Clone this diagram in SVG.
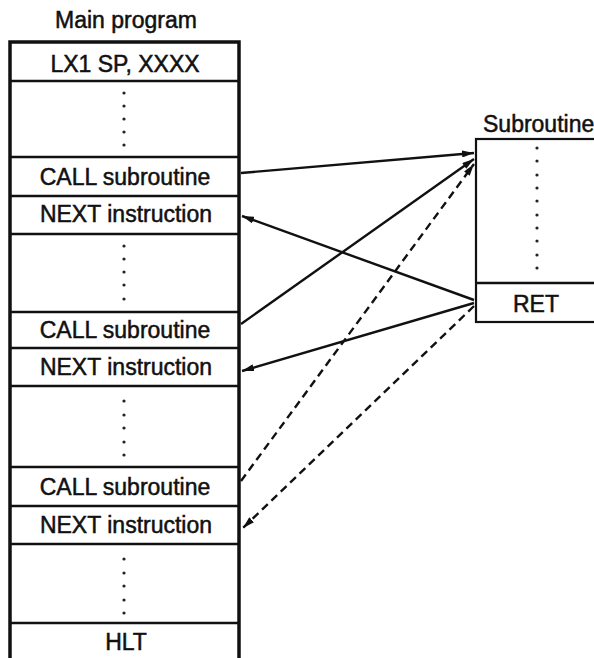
<svg xmlns="http://www.w3.org/2000/svg" width="594" height="658" viewBox="0 0 594 658">
<defs>
<style>
text{font-family:"Liberation Sans",Arial,sans-serif;font-size:23px;fill:#111;stroke:#111;stroke-width:0.5;text-anchor:middle}
.box{fill:none;stroke:#111;stroke-width:3.5}
.sub{fill:none;stroke:#111;stroke-width:2.2}
.div{stroke:#111;stroke-width:2.4}
.dot{fill:#222}
.c{fill:none;stroke:#111;stroke-width:2.4}
.d{stroke-dasharray:8 5}
</style>
<marker id="ah" viewBox="0 0 12 7" refX="12" refY="3.5" markerWidth="12" markerHeight="7" markerUnits="userSpaceOnUse" orient="auto">
<path d="M0,0 L12,3.5 L0,7 Z" fill="#111"/>
</marker>
</defs>
<rect width="594" height="658" fill="#fff"/>
<text x="126" y="28">Main program</text>
<g id="main">
<rect class="box" x="10" y="42" width="229" height="630"/>
<line class="div" x1="10" y1="81" x2="239" y2="81"/>
<line class="div" x1="10" y1="157" x2="239" y2="157"/>
<line class="div" x1="10" y1="196" x2="239" y2="196"/>
<line class="div" x1="10" y1="234" x2="239" y2="234"/>
<line class="div" x1="10" y1="312" x2="239" y2="312"/>
<line class="div" x1="10" y1="348" x2="239" y2="348"/>
<line class="div" x1="10" y1="386" x2="239" y2="386"/>
<line class="div" x1="10" y1="467" x2="239" y2="467"/>
<line class="div" x1="10" y1="506" x2="239" y2="506"/>
<line class="div" x1="10" y1="544" x2="239" y2="544"/>
<line class="div" x1="10" y1="623" x2="239" y2="623"/>
</g>
<g id="row-lx1"><text x="125" y="72">LX1 SP, XXXX</text></g>
<g id="dots1" class="dot"><circle cx="124" cy="93" r="1.6"/><circle cx="124" cy="106" r="1.6"/><circle cx="124" cy="119" r="1.6"/><circle cx="124" cy="132" r="1.6"/><circle cx="124" cy="145" r="1.6"/></g>
<g id="row-call1"><text x="125" y="185">CALL subroutine</text></g>
<g id="row-next1"><text x="126" y="222">NEXT instruction</text></g>
<g id="dots2" class="dot"><circle cx="124" cy="246" r="1.6"/><circle cx="124" cy="259" r="1.6"/><circle cx="124" cy="272" r="1.6"/><circle cx="124" cy="285" r="1.6"/><circle cx="124" cy="299" r="1.6"/></g>
<g id="row-call2"><text x="125" y="338">CALL subroutine</text></g>
<g id="row-next2"><text x="126" y="375">NEXT instruction</text></g>
<g id="dots3" class="dot"><circle cx="124" cy="401" r="1.6"/><circle cx="124" cy="415" r="1.6"/><circle cx="124" cy="428" r="1.6"/><circle cx="124" cy="442" r="1.6"/><circle cx="124" cy="455" r="1.6"/></g>
<g id="row-call3"><text x="125" y="495">CALL subroutine</text></g>
<g id="row-next3"><text x="126" y="533">NEXT instruction</text></g>
<g id="dots4" class="dot"><circle cx="124" cy="559" r="1.6"/><circle cx="124" cy="573" r="1.6"/><circle cx="124" cy="586" r="1.6"/><circle cx="124" cy="600" r="1.6"/><circle cx="124" cy="613" r="1.6"/></g>
<g id="row-hlt"><text x="126" y="650">HLT</text></g>
<g id="subroutine">
<text x="483" y="132" style="text-anchor:start">Subroutine</text>
<rect class="sub" x="476" y="139" width="130" height="183"/>
<line class="div" x1="476" y1="283" x2="600" y2="283"/>
<g class="dot"><circle cx="537" cy="148" r="1.6"/><circle cx="537" cy="161" r="1.6"/><circle cx="537" cy="175" r="1.6"/><circle cx="537" cy="188" r="1.6"/><circle cx="537" cy="201" r="1.6"/><circle cx="537" cy="215" r="1.6"/><circle cx="537" cy="228" r="1.6"/><circle cx="537" cy="241" r="1.6"/><circle cx="537" cy="255" r="1.6"/><circle cx="537" cy="268" r="1.6"/></g>
<text x="536" y="312">RET</text>
</g>
<g id="connectors">
<line class="c" x1="241" y1="173" x2="474" y2="153" marker-end="url(#ah)"/>
<line class="c" x1="241" y1="324" x2="474" y2="159" marker-end="url(#ah)"/>
<line class="c d" x1="241" y1="481" x2="474" y2="164" marker-end="url(#ah)"/>
<line class="c" x1="474" y1="300" x2="242" y2="216" marker-end="url(#ah)"/>
<line class="c" x1="474" y1="303" x2="242" y2="371" marker-end="url(#ah)"/>
<line class="c d" x1="474" y1="306" x2="243" y2="528" marker-end="url(#ah)"/>
</g>
</svg>
